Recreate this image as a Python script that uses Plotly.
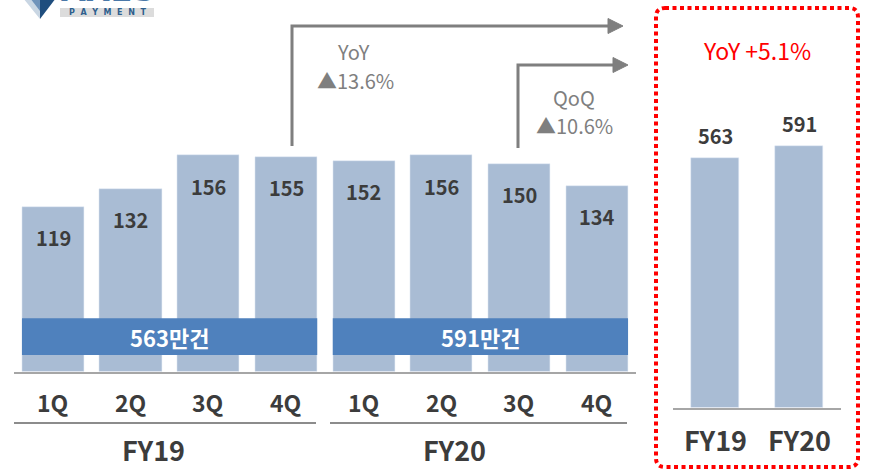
import plotly.graph_objects as go

# ---- data ----
quarters = ["1Q", "2Q", "3Q", "4Q", "1Q", "2Q", "3Q", "4Q"]
quarter_values = [119, 132, 156, 155, 152, 156, 150, 134]
fiscal_years = ["FY19", "FY20"]
annual_values = [563, 591]
annual_band_labels = ["563만건", "591만건"]
yoy_quarter = "▲13.6%"
qoq_quarter = "▲10.6%"
yoy_annual = "YoY +5.1%"

W, H = 871, 473
FONT = "Noto Sans CJK KR"
BAR = "#A9BCD4"
BAND = "#4F81BD"
DARK = "#3C3C3C"
GREY = "#7F7F7F"


def px(x):
    return x / W


def py(y):
    return 1 - y / H


fig = go.Figure()

# quarterly bars (left panel)
xq = list(range(len(quarter_values)))
fig.add_trace(go.Bar(x=xq, y=quarter_values, marker_color=BAR, width=0.8,
                     xaxis="x", yaxis="y", hoverinfo="skip"))

# annual bars (right panel)
fig.add_trace(go.Bar(x=[0, 1], y=annual_values, marker_color=BAR, width=0.57,
                     xaxis="x2", yaxis="y2", hoverinfo="skip"))

shapes = []
annotations = []


def paper_text(text, x, y, size, color, weight=None, family=FONT):
    font = dict(family=family, size=size, color=color)
    if weight:
        font["weight"] = weight
    annotations.append(dict(x=px(x), y=py(y), xref="paper", yref="paper", text=text,
                            showarrow=False, xanchor="center", yanchor="middle",
                            font=font))


# value labels inside quarterly bars
for i, v in enumerate(quarter_values):
    annotations.append(dict(x=i, y=v, xref="x", yref="y", text=str(v),
                            showarrow=False, xanchor="center", yanchor="middle",
                            yshift=-31,
                            font=dict(family=FONT, size=20, color=DARK, weight=700)))

# annual totals band across each fiscal year
for g, label in enumerate(annual_band_labels):
    x0, x1 = g * 4 - 0.4, g * 4 + 3.4
    shapes.append(dict(type="rect", xref="x", yref="y", x0=x0, x1=x1,
                       y0=12.0, y1=38.5, fillcolor=BAND, line=dict(width=0),
                       layer="above"))
    annotations.append(dict(x=g * 4 + 1.5, y=25.2, xref="x", yref="y", text=label,
                            showarrow=False, xanchor="center",
                            font=dict(family=FONT, size=22, color="white", weight=700)))

# quarter labels and fiscal-year labels
for i, q in enumerate(quarters):
    annotations.append(dict(x=i, y=py(402), xref="x", yref="paper", text=q,
                            showarrow=False, xanchor="center", yanchor="middle",
                            font=dict(family=FONT, size=23, color=DARK, weight=700)))
for fy, cx in zip(fiscal_years, [153, 455]):
    paper_text(fy, cx, 449, 27, DARK, 700)

# group underlines
for x0, x1 in [(14, 316), (330, 627)]:
    shapes.append(dict(type="line", xref="paper", yref="paper",
                       x0=px(x0), x1=px(x1), y0=py(423), y1=py(423),
                       line=dict(color="#8C8C8C", width=2)))


# growth arrows
def elbow_arrow(xs, ybot, ytop, xend):
    shapes.append(dict(type="path", xref="paper", yref="paper",
                       path=f"M {px(xs)},{py(ybot)} L {px(xs)},{py(ytop)} L {px(xend - 12)},{py(ytop)}",
                       line=dict(color=GREY, width=3)))
    shapes.append(dict(type="path", xref="paper", yref="paper",
                       path=(f"M {px(xend - 15)},{py(ytop - 7.5)} L {px(xend)},{py(ytop)} "
                             f"L {px(xend - 15)},{py(ytop + 7.5)} Z"),
                       fillcolor=GREY, line=dict(color=GREY, width=1)))


elbow_arrow(292, 146, 26, 623)
elbow_arrow(518, 148, 65, 628)

paper_text("YoY", 353, 51, 20, GREY)
paper_text(yoy_quarter, 355, 80, 20, GREY)
paper_text("QoQ", 574, 97, 20, GREY)
paper_text(qoq_quarter, 574, 125, 20, GREY)

# annual panel: labels
for i, v in enumerate(annual_values):
    annotations.append(dict(x=i, y=v, xref="x2", yref="y2", text=str(v),
                            showarrow=False, xanchor="center", yanchor="bottom", yshift=6,
                            font=dict(family=FONT, size=20, color=DARK, weight=700)))
    annotations.append(dict(x=i, y=py(439), xref="x2", yref="paper", text=fiscal_years[i],
                            showarrow=False, xanchor="center", yanchor="middle",
                            font=dict(family=FONT, size=27, color=DARK, weight=700)))

paper_text(yoy_annual, 757, 50, 23, "#FF0000")

# dotted rounded frame around annual panel
l, t, r, b, rad = 656, 8, 858, 467, 9
frame = (f"M {px(l + rad)},{py(t)} L {px(r - rad)},{py(t)} "
         f"Q {px(r)},{py(t)} {px(r)},{py(t + rad)} L {px(r)},{py(b - rad)} "
         f"Q {px(r)},{py(b)} {px(r - rad)},{py(b)} L {px(l + rad)},{py(b)} "
         f"Q {px(l)},{py(b)} {px(l)},{py(b - rad)} L {px(l)},{py(t + rad)} "
         f"Q {px(l)},{py(t)} {px(l + rad)},{py(t)} Z")
shapes.append(dict(type="path", xref="paper", yref="paper", path=frame,
                   line=dict(color="#FF0000", width=4, dash="4px,3.5px")))

# company logo (top-left corner, partially cropped by the page edge)
shapes.append(dict(type="path", xref="paper", yref="paper",
                   path=f"M {px(23)},{py(-2)} L {px(40)},{py(-2)} L {px(40)},{py(19)} Z",
                   fillcolor="#C9D6E3", line=dict(width=0)))
shapes.append(dict(type="path", xref="paper", yref="paper",
                   path=f"M {px(40)},{py(-2)} L {px(56)},{py(-2)} L {px(40)},{py(19)} Z",
                   fillcolor="#1F4E7E", line=dict(width=0)))
shapes.append(dict(type="path", xref="paper", yref="paper",
                   path=f"M {px(30)},{py(-2)} L {px(40)},{py(-2)} L {px(40)},{py(11)} Z",
                   fillcolor="#6F93BA", line=dict(width=0)))
shapes.append(dict(type="rect", xref="paper", yref="paper",
                   x0=px(60), x1=px(154), y0=py(17), y1=py(8),
                   fillcolor="#DCDCDC", line=dict(width=0)))
paper_text("P  A  Y  M  E  N  T", 107, 12.5, 8, "#2E5F8E", 700, "DejaVu Sans")
paper_text("AXES", 108, -10, 32, "#4A78A8", 700, "DejaVu Sans")

# axes layout (pixel-calibrated domains)
q_left, q_right = 14.2, 635.8
q_base = 371.5
q_scale = 1.385  # px per unit
a_left, a_right = 673, 841
a_base = 407.5
a_scale = 0.4425

fig.update_layout(
    width=W, height=H, margin=dict(l=0, r=0, t=0, b=0),
    paper_bgcolor="white", plot_bgcolor="white",
    showlegend=False, bargap=0,
    xaxis=dict(domain=[px(q_left), px(q_right)], range=[-0.5, 7.5],
               showticklabels=False, showgrid=False, zeroline=False, ticks="",
               showline=True, linecolor="#A6A6A6", linewidth=2, anchor="y",
               fixedrange=True),
    yaxis=dict(domain=[py(q_base), 1], range=[0, q_base / q_scale],
               visible=False, fixedrange=True),
    xaxis2=dict(domain=[px(a_left), px(a_right)], range=[-0.5, 1.5],
                showticklabels=False, showgrid=False, zeroline=False, ticks="",
                showline=True, linecolor="#A6A6A6", linewidth=2, anchor="y2",
                fixedrange=True),
    yaxis2=dict(domain=[py(a_base), 1], range=[0, a_base / a_scale],
                visible=False, fixedrange=True),
    shapes=shapes, annotations=annotations,
)

fig.write_html("out.html")
